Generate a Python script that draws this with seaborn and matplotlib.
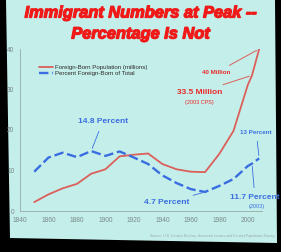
import matplotlib
matplotlib.use("Agg")
import matplotlib.pyplot as plt
from matplotlib.patches import Polygon
import matplotlib.patheffects as pe
import seaborn as sns
import pandas as pd

# ---- data ----
years_pop = [1850, 1860, 1870, 1880, 1890, 1900, 1910, 1920, 1930, 1940, 1950, 1960, 1970, 1980, 1990, 2000, 2003, 2008]
foreign_born_millions = [2.2, 4.1, 5.6, 6.7, 9.2, 10.3, 13.5, 13.9, 14.2, 11.6, 10.3, 9.7, 9.6, 14.1, 19.8, 31.1, 33.5, 40.0]
years_pct = [1850, 1860, 1870, 1880, 1890, 1900, 1910, 1920, 1930, 1940, 1950, 1960, 1970, 1980, 1990, 2000, 2003, 2008]
percent_foreign_born = [9.7, 13.2, 14.4, 13.3, 14.8, 13.6, 14.7, 13.2, 11.6, 8.8, 6.9, 5.4, 4.7, 6.2, 7.9, 11.1, 11.7, 13.0]
x_ticks = [1840, 1860, 1880, 1900, 1920, 1940, 1960, 1980, 2000]
y_ticks = [0, 10, 20, 30, 40]

title_lines = ["Immigrant Numbers at Peak --", "Percentage Is Not"]
series_names = ["Foreign-Born Population (millions)", "Percent Foreign-Born of Total"]

RED_LINE = "#dc5f5a"
RED_TXT = "#ea2a2a"
TITLE_RED = "#f01a18"
BLUE = "#3a6ee0"
SLIDE = "#c4eeea"
GREY = "#7a8a8a"

sns.set_style("white")
plt.rcParams["font.family"] = ["Liberation Sans", "DejaVu Sans"]

W, H = 281, 252
fig = plt.figure(figsize=(W / 100, H / 100), dpi=100, facecolor="black")

def fpt(x, y):
    return (x / W, 1 - y / H)

slide = Polygon([fpt(6, 0), fpt(275, 0), fpt(277, 243), fpt(10, 238)],
                closed=True, transform=fig.transFigure, facecolor=SLIDE,
                edgecolor="none", zorder=-10)
fig.patches.append(slide)

ax = fig.add_axes([20 / W, 1 - 211 / H, (262 - 20) / W, (211 - 49) / H])
ax.set_facecolor("none")
ax.set_zorder(5)

df_pop = pd.DataFrame({"year": years_pop, "value": foreign_born_millions})
df_pct = pd.DataFrame({"year": years_pct, "value": percent_foreign_born})

sns.lineplot(data=df_pop, x="year", y="value", ax=ax, color=RED_LINE,
             linewidth=1.3, label=series_names[0])
sns.lineplot(data=df_pct, x="year", y="value", ax=ax, color=BLUE,
             linewidth=1.7, label=series_names[1])
ax.lines[1].set_dashes([4, 1.6])

ax.set_xlim(1840, 2010)
ax.set_ylim(0, 40)
ax.set_xticks(x_ticks)
ax.set_yticks(y_ticks)
ax.set_xlabel("")
ax.set_ylabel("")
ax.tick_params(axis="both", labelsize=4.8, colors=GREY, length=2, width=0.5, pad=2)
for s in ["top", "right"]:
    ax.spines[s].set_visible(False)
for s in ["left", "bottom"]:
    ax.spines[s].set_color("#9aa8a8")
    ax.spines[s].set_linewidth(0.6)

leg = ax.legend(loc="upper left", bbox_to_anchor=(0.07, 0.92), frameon=False,
                fontsize=4.4, handlelength=2.2, handletextpad=0.3,
                labelspacing=0.25, borderaxespad=0)
for t in leg.get_texts():
    t.set_color("#2a2a2a")
leg.get_lines()[1].set_dashes([4, 1.6])

# title
heavy = [pe.withStroke(linewidth=0.9, foreground=TITLE_RED)]
fig.text(0.5, 1 - 13 / H, title_lines[0], ha="center", va="center",
         fontsize=11.8, fontweight="bold", fontstyle="italic", color=TITLE_RED,
         path_effects=heavy)
fig.text(0.5, 1 - 34 / H, title_lines[1], ha="center", va="center",
         fontsize=11.8, fontweight="bold", fontstyle="italic", color=TITLE_RED,
         path_effects=heavy)

arrow_b = dict(arrowstyle="-", color=BLUE, lw=0.6)
arrow_r = dict(arrowstyle="-", color=RED_LINE, lw=0.7)

ax.annotate("14.8 Percent", xy=(1890, 14.8), xytext=(1898, 22.0),
            ha="center", va="center", fontsize=6, fontweight="bold",
            color=BLUE, arrowprops=arrow_b)
ax.annotate("40 Million", xy=(2008, 40.0), xytext=(1978, 34.2),
            ha="center", va="center", fontsize=4.5, fontweight="bold",
            color=RED_TXT, arrowprops=arrow_r)
ax.annotate("33.5 Million", xy=(2003, 33.5), xytext=(1966, 29.3),
            ha="center", va="center", fontsize=6, fontweight="bold",
            color=RED_TXT, arrowprops=arrow_r)
ax.text(1966, 26.8, "(2003 CPS)", ha="center", va="center", fontsize=4,
        color=RED_TXT)
ax.annotate("13 Percent", xy=(2008, 13.0), xytext=(2006, 19.3),
            ha="center", va="center", fontsize=4.5, fontweight="bold",
            color=BLUE, arrowprops=arrow_b)
ax.annotate("11.7 Percent", xy=(2003, 11.7), xytext=(2005, 3.4),
            ha="center", va="center", fontsize=6, fontweight="bold",
            color=BLUE, arrowprops=arrow_b)
ax.text(2006, 1.0, "(2003)", ha="center", va="center", fontsize=4,
        color=BLUE)
ax.annotate("4.7 Percent", xy=(1970, 4.7), xytext=(1943, 2.0),
            ha="center", va="center", fontsize=6, fontweight="bold",
            color=BLUE, arrowprops=arrow_b)

fig.text(150 / W, 1 - 236 / H,
         "Source: U.S. Census Bureau, decennial census and Current Population Survey",
         fontsize=2.5, color="#9aa8a8", ha="left", va="center")

fig.savefig("out.png", dpi=100, facecolor=fig.get_facecolor())
